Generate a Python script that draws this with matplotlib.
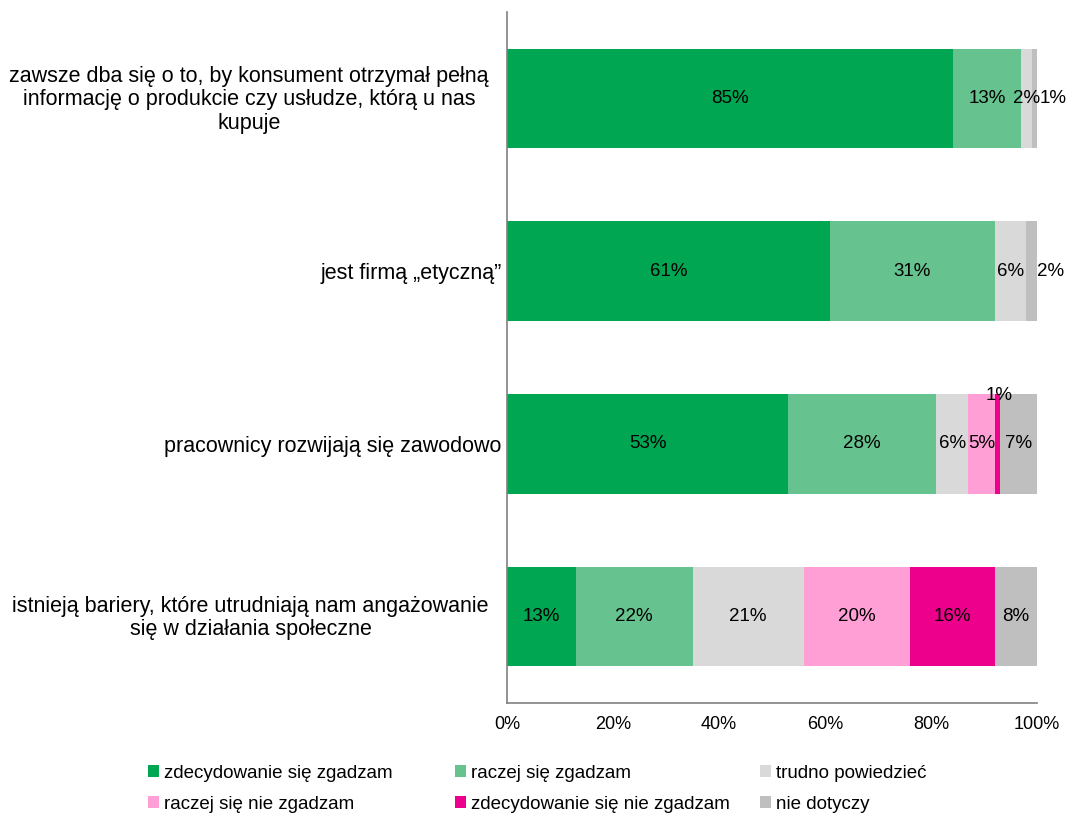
import numpy as np
import matplotlib.pyplot as plt
import matplotlib.transforms as mtransforms
from matplotlib.patches import Patch

plt.rcParams['font.family'] = ['Liberation Sans', 'DejaVu Sans']

statements = [
    "zawsze dba się o to, by konsument otrzymał pełną\ninformację o produkcie czy usłudze, którą u nas\nkupuje",
    "jest firmą \u201eetyczną\u201d",
    "pracownicy rozwijają się zawodowo",
    "istnieją bariery, które utrudniają nam angażowanie\nsię w działania społeczne",
]
answers = [
    "zdecydowanie się zgadzam",
    "raczej się zgadzam",
    "trudno powiedzieć",
    "raczej się nie zgadzam",
    "zdecydowanie się nie zgadzam",
    "nie dotyczy",
]
colors = ["#00A651", "#66C38F", "#D9D9D9", "#FF9FD6", "#EC008C", "#BFBFBF"]

# percent per statement, columns follow `answers`
values = np.array([
    [85, 13, 2, 0, 0, 1],
    [61, 31, 6, 0, 0, 2],
    [53, 28, 6, 5, 1, 7],
    [13, 22, 21, 20, 16, 8],
], dtype=float)

# 100% stacked: each row scaled to its total
shares = values / values.sum(axis=1, keepdims=True) * 100

# label nudges (dx in %, dy in bar units) for thin segments
nudges = {(0, 5): (3.5, 0.0), (1, 5): (3.5, 0.0), (2, 4): (0.3, -0.28)}

fig = plt.figure(figsize=(10.69, 8.17), dpi=100)
ax = fig.add_axes([0.4743, 0.1395, 0.4958, 0.846])

y = np.arange(len(statements))
left = np.zeros(len(statements))
for j, ans in enumerate(answers):
    ax.barh(y, shares[:, j], left=left, height=0.575, color=colors[j], label=ans)
    for i in range(len(statements)):
        if values[i, j] == 0:
            continue
        dx, dy = nudges.get((i, j), (0.0, 0.0))
        ax.text(left[i] + shares[i, j] / 2 + dx, y[i] + dy, f"{values[i, j]:.0f}%",
                ha='center', va='center', fontsize=13.5, color='black')
    left += shares[:, j]

ax.set_xlim(0, 100)
ax.set_ylim(3.5, -0.5)
ax.set_xticks(np.arange(0, 101, 20))
ax.set_xticklabels([f"{t}%" for t in range(0, 101, 20)], fontsize=13)
ax.set_yticks(y)
ax.set_yticklabels(statements, fontsize=15.5, multialignment='center', linespacing=1.15)
ax.tick_params(axis='both', length=0)
ax.tick_params(axis='y', pad=4)
ax.tick_params(axis='x', pad=9)

# wrapped labels sit a little further from the axis
for lbl in ax.get_yticklabels():
    if "\n" in lbl.get_text():
        shift = mtransforms.ScaledTranslation(-9 / 72, 1.5 / 72, fig.dpi_scale_trans)
        lbl.set_transform(lbl.get_transform() + shift)

for side in ['top', 'right']:
    ax.spines[side].set_visible(False)
for side in ['left', 'bottom']:
    ax.spines[side].set_color('#808080')
    ax.spines[side].set_linewidth(1.2)

# legend: three columns, two rows, filled row by row
col_x = [0.1385, 0.4256, 0.711]
for c, x0 in enumerate(col_x):
    idx = [c, c + 3]
    handles = [Patch(facecolor=colors[k], label=answers[k]) for k in idx]
    fig.legend(handles=handles, loc='upper left', bbox_to_anchor=(x0, 0.0637),
               frameon=False, fontsize=13.5, handlelength=0.6, handleheight=0.6,
               handletextpad=0.25, labelspacing=0.75, borderpad=0, borderaxespad=0)

fig.savefig("out.png", dpi=100)
